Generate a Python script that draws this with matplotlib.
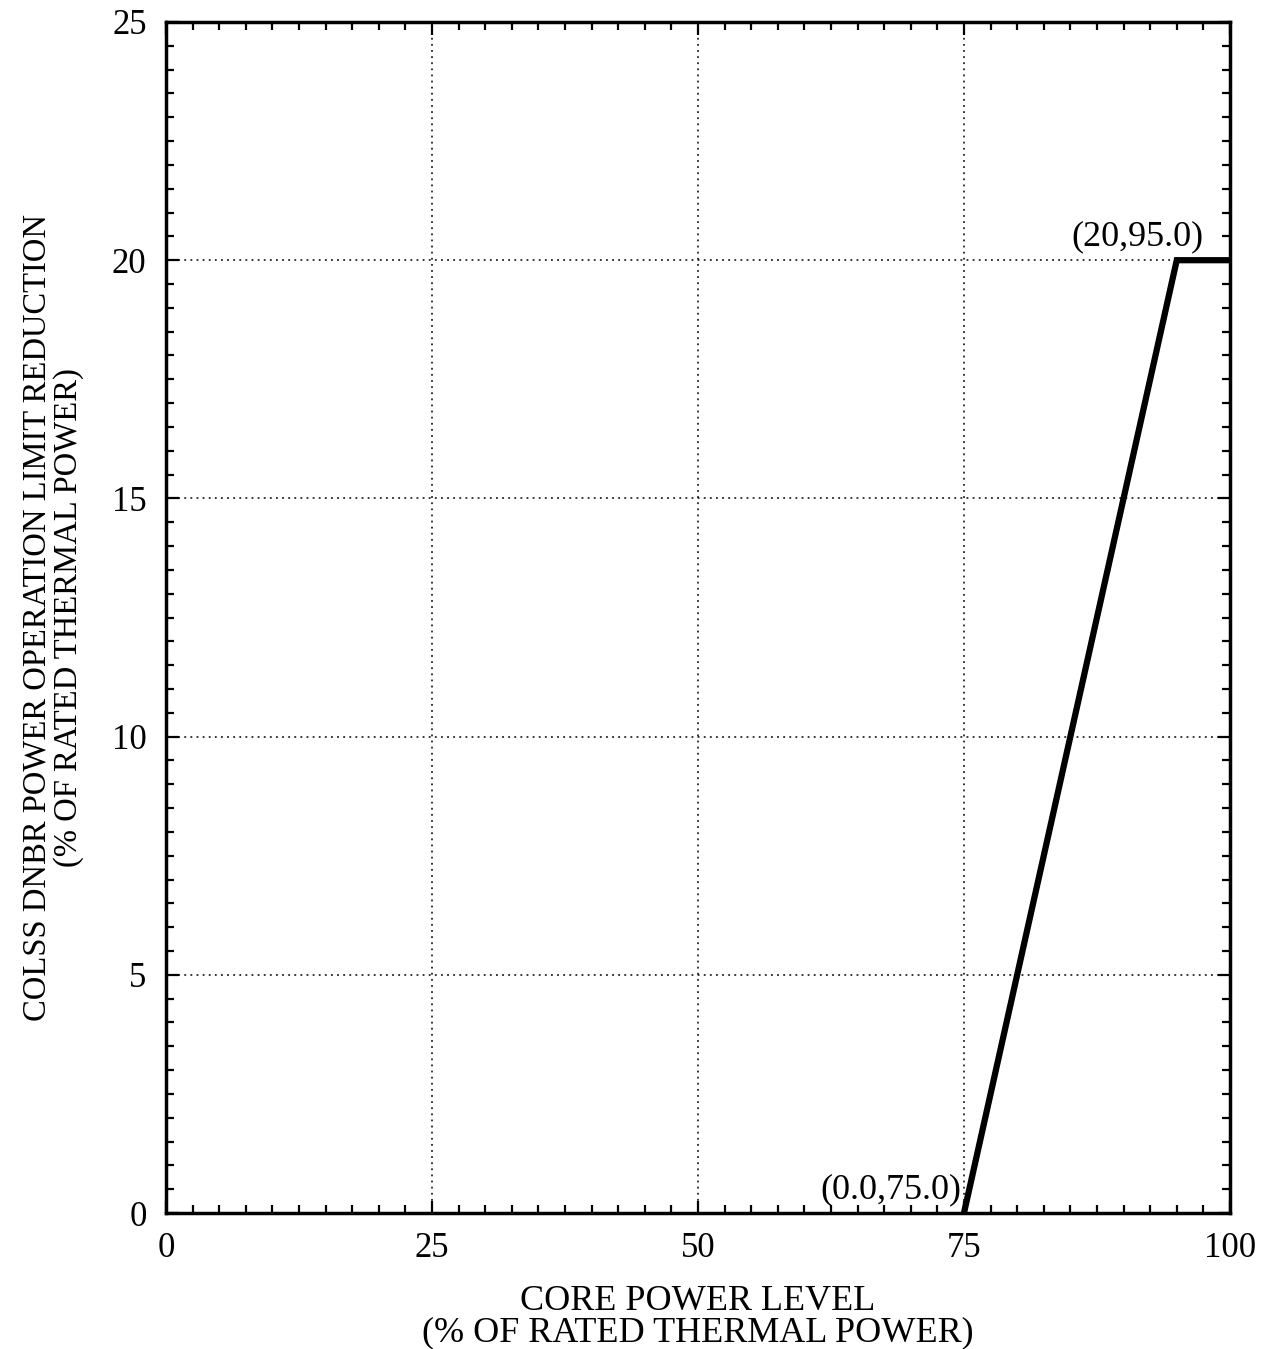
import matplotlib.pyplot as plt
from matplotlib.ticker import MultipleLocator

plt.rcParams["font.family"] = ["Liberation Serif", "DejaVu Serif"]

# limit curve: core power level (x) vs. reduction (y)
CORE_POWER = [75.0, 95.0, 100.0]
REDUCTION = [0.0, 20.0, 20.0]

X_TICKS = [0, 25, 50, 75, 100]
Y_TICKS = [0, 5, 10, 15, 20, 25]


def main():
    fig = plt.figure(figsize=(12.68, 13.49), dpi=100)
    ax = fig.add_axes([0.1309, 0.1008, 0.8391, 0.8829])

    ax.plot(CORE_POWER, REDUCTION, color="black", linewidth=4.5, solid_joinstyle="miter", zorder=3)

    ax.set_xlim(0, 100)
    ax.set_ylim(0, 25)
    ax.set_xticks(X_TICKS)
    ax.set_yticks(Y_TICKS)
    ax.xaxis.set_minor_locator(MultipleLocator(2.5))
    ax.yaxis.set_minor_locator(MultipleLocator(0.5))
    ax.tick_params(which="both", direction="in", top=True, right=True, width=1.6, labelsize=25, pad=14)
    ax.tick_params(which="major", length=9)
    ax.tick_params(which="minor", length=6)
    for side in ax.spines.values():
        side.set_linewidth(2.5)

    ax.grid(True, which="major", color="black", linestyle=(0, (1.2, 2.8)), linewidth=1.1)

    ax.text(74.8, 0.15, "(0.0,75.0)", ha="right", va="bottom", fontsize=26)
    ax.text(91.3, 20.15, "(20,95.0)", ha="center", va="bottom", fontsize=26)

    ax.set_xlabel("CORE POWER LEVEL\n(% OF RATED THERMAL POWER)", fontsize=26, labelpad=14, linespacing=0.95)
    ax.set_ylabel("COLSS DNBR POWER OPERATION LIMIT REDUCTION\n(% OF RATED THERMAL POWER)", fontsize=23.5,
                  labelpad=20, linespacing=1.05)

    fig.savefig("out.png", dpi=100)
    plt.close(fig)


if __name__ == "__main__":
    main()
